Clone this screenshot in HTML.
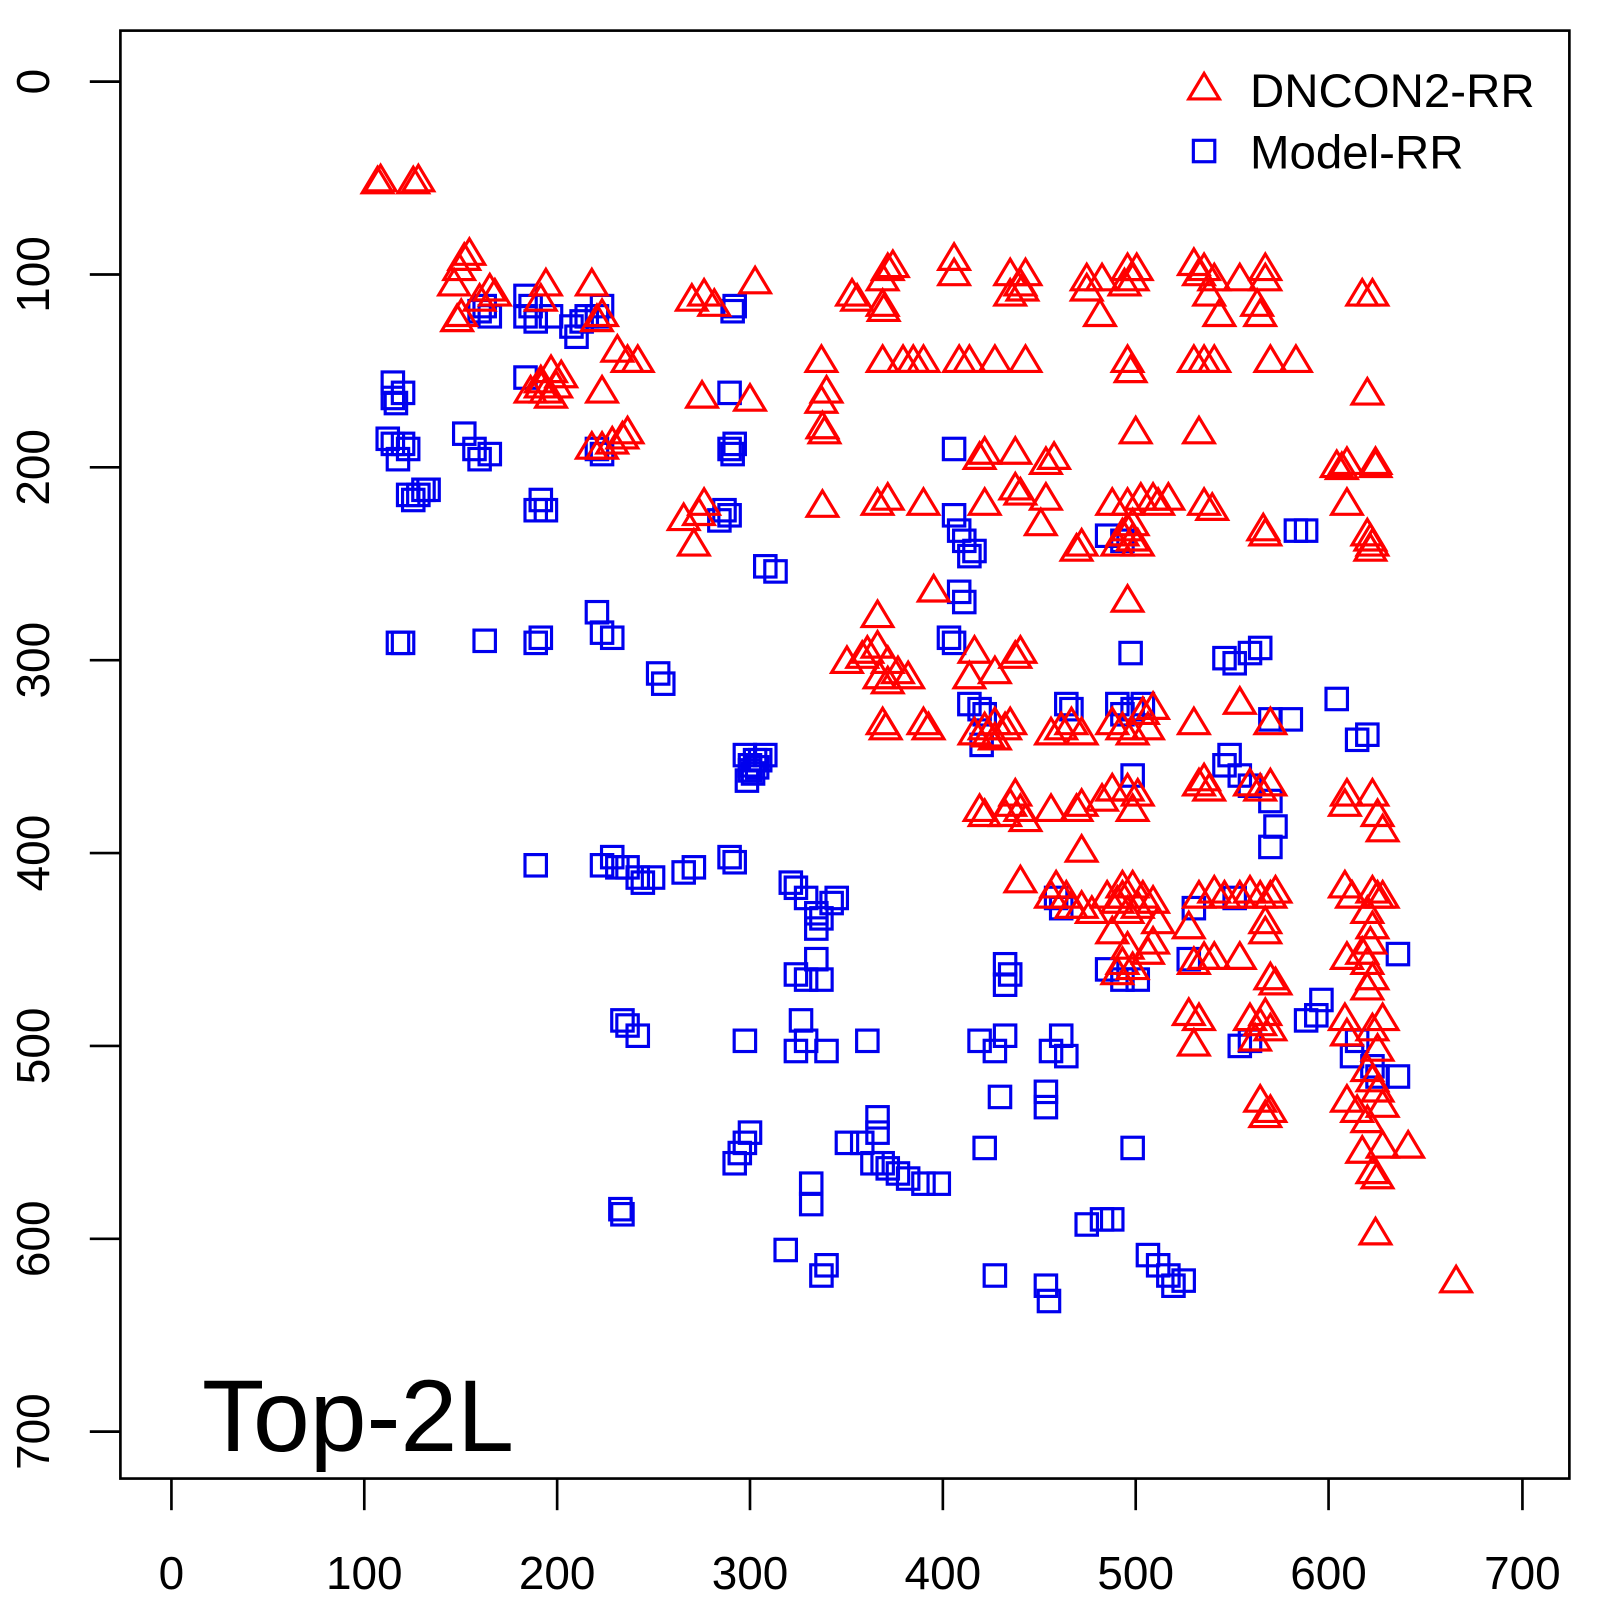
<!DOCTYPE html>
<html><head><meta charset="utf-8"><style>html,body{margin:0;padding:0;background:#fff;overflow:hidden}svg{display:block}</style></head>
<body>
<svg width="1600" height="1600" viewBox="0 0 1600 1600" xmlns="http://www.w3.org/2000/svg" font-family="Liberation Sans, Arial, sans-serif">
<defs>
<path id="t" d="M0,-16 L15,9 L-15,9 Z" fill="none" stroke="#ff0000" stroke-width="3.1"/>
<rect id="s" x="-10.5" y="-10.5" width="21" height="21" fill="none" stroke="#0000ee" stroke-width="3.1"/>
</defs>
<g transform="scale(1.0204)">
<rect x="118" y="30" width="1420" height="1419" fill="none" stroke="#000" stroke-width="2.6"/>
<g stroke="#000" stroke-width="2.6">
<line x1="168" y1="1449" x2="168" y2="1480"/><line x1="357" y1="1449" x2="357" y2="1480"/><line x1="546" y1="1449" x2="546" y2="1480"/><line x1="735" y1="1449" x2="735" y2="1480"/><line x1="924" y1="1449" x2="924" y2="1480"/><line x1="1113" y1="1449" x2="1113" y2="1480"/><line x1="1302" y1="1449" x2="1302" y2="1480"/><line x1="1492" y1="1449" x2="1492" y2="1480"/>
<line x1="88" y1="80" x2="118" y2="80"/><line x1="88" y1="269" x2="118" y2="269"/><line x1="88" y1="458" x2="118" y2="458"/><line x1="88" y1="647" x2="118" y2="647"/><line x1="88" y1="836" x2="118" y2="836"/><line x1="88" y1="1025" x2="118" y2="1025"/><line x1="88" y1="1214" x2="118" y2="1214"/><line x1="88" y1="1403" x2="118" y2="1403"/>
</g>
<g font-size="45" text-anchor="middle" fill="#000">
<text x="168" y="1557">0</text><text x="357" y="1557">100</text><text x="546" y="1557">200</text><text x="735" y="1557">300</text><text x="924" y="1557">400</text><text x="1113" y="1557">500</text><text x="1302" y="1557">600</text><text x="1492" y="1557">700</text>
<text transform="translate(48,80) rotate(-90)">0</text><text transform="translate(48,269) rotate(-90)">100</text><text transform="translate(48,458) rotate(-90)">200</text><text transform="translate(48,647) rotate(-90)">300</text><text transform="translate(48,836) rotate(-90)">400</text><text transform="translate(48,1025) rotate(-90)">500</text><text transform="translate(48,1214) rotate(-90)">600</text><text transform="translate(48,1403) rotate(-90)">700</text>
</g>
<text x="198" y="1422" font-size="100" fill="#000">Top-2L</text>
<use href="#t" x="1180" y="88"/><text x="1225" y="105" font-size="46.5">DNCON2-RR</text>
<use href="#s" x="1180" y="148"/><text x="1225" y="165" font-size="46.5">Model-RR</text>
<g id="blue">
<use href="#s" x="475" y="300"/><use href="#s" x="480" y="310"/><use href="#s" x="470" y="305"/>
<use href="#s" x="515" y="290"/><use href="#s" x="520" y="300"/><use href="#s" x="515" y="310"/><use href="#s" x="525" y="315"/>
<use href="#s" x="540" y="310"/><use href="#s" x="560" y="320"/><use href="#s" x="565" y="330"/><use href="#s" x="570" y="315"/><use href="#s" x="575" y="310"/>
<use href="#s" x="590" y="300"/><use href="#s" x="585" y="310"/><use href="#s" x="720" y="300"/><use href="#s" x="718" y="305"/>
<use href="#s" x="515" y="370"/>
<use href="#s" x="385" y="375"/><use href="#s" x="385" y="390"/><use href="#s" x="395" y="385"/><use href="#s" x="388" y="395"/>
<use href="#s" x="380" y="430"/><use href="#s" x="385" y="435"/><use href="#s" x="395" y="435"/><use href="#s" x="400" y="440"/><use href="#s" x="390" y="450"/>
<use href="#s" x="400" y="485"/><use href="#s" x="405" y="490"/><use href="#s" x="410" y="485"/><use href="#s" x="415" y="480"/><use href="#s" x="420" y="480"/>
<use href="#s" x="455" y="425"/><use href="#s" x="465" y="440"/><use href="#s" x="470" y="450"/><use href="#s" x="480" y="445"/>
<use href="#s" x="530" y="490"/><use href="#s" x="535" y="500"/><use href="#s" x="525" y="500"/>
<use href="#s" x="585" y="440"/><use href="#s" x="590" y="445"/>
<use href="#s" x="715" y="385"/><use href="#s" x="715" y="440"/><use href="#s" x="720" y="435"/><use href="#s" x="718" y="445"/>
<use href="#s" x="710" y="500"/><use href="#s" x="715" y="505"/><use href="#s" x="705" y="510"/>
<use href="#s" x="750" y="555"/><use href="#s" x="760" y="560"/>
<use href="#s" x="390" y="630"/><use href="#s" x="395" y="630"/><use href="#s" x="475" y="628"/><use href="#s" x="525" y="630"/><use href="#s" x="530" y="625"/>
<use href="#s" x="585" y="600"/><use href="#s" x="590" y="620"/><use href="#s" x="600" y="625"/>
<use href="#s" x="645" y="660"/><use href="#s" x="650" y="670"/>
<use href="#s" x="730" y="740"/><use href="#s" x="735" y="750"/><use href="#s" x="740" y="745"/><use href="#s" x="745" y="745"/><use href="#s" x="750" y="740"/><use href="#s" x="732" y="765"/><use href="#s" x="738" y="758"/><use href="#s" x="735" y="755"/><use href="#s" x="742" y="752"/>
<use href="#s" x="525" y="848"/><use href="#s" x="590" y="848"/><use href="#s" x="600" y="840"/><use href="#s" x="605" y="850"/><use href="#s" x="615" y="850"/><use href="#s" x="625" y="860"/><use href="#s" x="630" y="865"/><use href="#s" x="640" y="860"/>
<use href="#s" x="670" y="855"/><use href="#s" x="680" y="850"/><use href="#s" x="715" y="840"/><use href="#s" x="720" y="845"/>
<use href="#s" x="775" y="865"/><use href="#s" x="780" y="870"/><use href="#s" x="790" y="880"/><use href="#s" x="800" y="895"/><use href="#s" x="805" y="900"/><use href="#s" x="815" y="885"/><use href="#s" x="820" y="880"/><use href="#s" x="800" y="910"/>
<use href="#s" x="780" y="955"/><use href="#s" x="790" y="960"/><use href="#s" x="805" y="960"/><use href="#s" x="800" y="940"/>
<use href="#s" x="610" y="1000"/><use href="#s" x="615" y="1005"/><use href="#s" x="625" y="1015"/><use href="#s" x="730" y="1020"/>
<use href="#s" x="785" y="1000"/><use href="#s" x="790" y="1020"/><use href="#s" x="780" y="1030"/><use href="#s" x="810" y="1030"/><use href="#s" x="850" y="1020"/>
<use href="#s" x="735" y="1110"/><use href="#s" x="730" y="1120"/><use href="#s" x="725" y="1130"/><use href="#s" x="720" y="1140"/>
<use href="#s" x="795" y="1160"/><use href="#s" x="795" y="1180"/><use href="#s" x="608" y="1185"/><use href="#s" x="610" y="1190"/>
<use href="#s" x="770" y="1225"/><use href="#s" x="810" y="1240"/><use href="#s" x="805" y="1250"/>
<use href="#s" x="830" y="1120"/><use href="#s" x="845" y="1120"/><use href="#s" x="860" y="1095"/><use href="#s" x="860" y="1110"/>
<use href="#s" x="855" y="1140"/><use href="#s" x="865" y="1140"/><use href="#s" x="870" y="1145"/><use href="#s" x="880" y="1150"/><use href="#s" x="890" y="1155"/><use href="#s" x="905" y="1160"/><use href="#s" x="920" y="1160"/>
<use href="#s" x="985" y="1015"/><use href="#s" x="960" y="1020"/><use href="#s" x="975" y="1030"/><use href="#s" x="965" y="1125"/><use href="#s" x="980" y="1075"/>
<use href="#s" x="1030" y="1030"/><use href="#s" x="1040" y="1015"/><use href="#s" x="1045" y="1035"/><use href="#s" x="1025" y="1070"/><use href="#s" x="1025" y="1085"/>
<use href="#s" x="975" y="1250"/><use href="#s" x="1025" y="1260"/><use href="#s" x="1028" y="1275"/>
<use href="#s" x="1065" y="1200"/><use href="#s" x="1080" y="1195"/><use href="#s" x="1090" y="1195"/><use href="#s" x="1110" y="1125"/>
<use href="#s" x="1125" y="1230"/><use href="#s" x="1135" y="1240"/><use href="#s" x="1145" y="1250"/><use href="#s" x="1150" y="1260"/><use href="#s" x="1160" y="1255"/>
<use href="#s" x="935" y="440"/><use href="#s" x="935" y="505"/><use href="#s" x="940" y="520"/><use href="#s" x="945" y="530"/><use href="#s" x="950" y="545"/><use href="#s" x="955" y="540"/>
<use href="#s" x="940" y="580"/><use href="#s" x="945" y="590"/><use href="#s" x="930" y="625"/><use href="#s" x="935" y="630"/>
<use href="#s" x="950" y="690"/><use href="#s" x="960" y="695"/><use href="#s" x="965" y="700"/><use href="#s" x="962" y="730"/>
<use href="#s" x="1045" y="690"/><use href="#s" x="1050" y="695"/>
<use href="#s" x="985" y="945"/><use href="#s" x="990" y="955"/><use href="#s" x="985" y="965"/>
<use href="#s" x="1035" y="880"/><use href="#s" x="1040" y="890"/>
<use href="#s" x="1085" y="950"/><use href="#s" x="1100" y="960"/><use href="#s" x="1115" y="960"/>
<use href="#s" x="1095" y="690"/><use href="#s" x="1100" y="700"/><use href="#s" x="1110" y="695"/><use href="#s" x="1120" y="690"/><use href="#s" x="1110" y="760"/><use href="#s" x="1108" y="640"/>
<use href="#s" x="1085" y="525"/><use href="#s" x="1100" y="530"/><use href="#s" x="1170" y="890"/><use href="#s" x="1165" y="940"/>
<use href="#s" x="1200" y="750"/><use href="#s" x="1205" y="740"/><use href="#s" x="1215" y="760"/><use href="#s" x="1225" y="770"/>
<use href="#s" x="1200" y="645"/><use href="#s" x="1210" y="650"/><use href="#s" x="1225" y="640"/><use href="#s" x="1235" y="635"/>
<use href="#s" x="1245" y="785"/><use href="#s" x="1250" y="810"/><use href="#s" x="1245" y="830"/><use href="#s" x="1245" y="705"/><use href="#s" x="1265" y="705"/>
<use href="#s" x="1270" y="520"/><use href="#s" x="1280" y="520"/><use href="#s" x="1295" y="980"/><use href="#s" x="1280" y="1000"/><use href="#s" x="1290" y="995"/>
<use href="#s" x="1310" y="685"/><use href="#s" x="1330" y="725"/><use href="#s" x="1340" y="720"/><use href="#s" x="1370" y="935"/>
<use href="#s" x="1345" y="1045"/><use href="#s" x="1350" y="1055"/><use href="#s" x="1370" y="1055"/><use href="#s" x="1330" y="1020"/><use href="#s" x="1325" y="1035"/>
<use href="#s" x="1215" y="1025"/><use href="#s" x="1225" y="1020"/><use href="#s" x="1210" y="880"/>
</g>
<g id="red">
<use href="#t" x="370" y="180"/><use href="#t" x="373" y="178"/><use href="#t" x="410" y="178"/><use href="#t" x="405" y="180"/>
<use href="#t" x="455" y="255"/><use href="#t" x="460" y="250"/><use href="#t" x="450" y="265"/><use href="#t" x="445" y="280"/><use href="#t" x="452" y="310"/><use href="#t" x="448" y="315"/><use href="#t" x="480" y="285"/><use href="#t" x="485" y="290"/><use href="#t" x="470" y="295"/><use href="#t" x="535" y="280"/><use href="#t" x="530" y="295"/><use href="#t" x="580" y="280"/><use href="#t" x="590" y="310"/><use href="#t" x="585" y="315"/>
<use href="#t" x="530" y="375"/><use href="#t" x="540" y="365"/><use href="#t" x="545" y="380"/><use href="#t" x="535" y="385"/><use href="#t" x="520" y="385"/><use href="#t" x="550" y="370"/><use href="#t" x="540" y="390"/><use href="#t" x="530" y="380"/>
<use href="#t" x="590" y="385"/><use href="#t" x="605" y="345"/><use href="#t" x="615" y="355"/><use href="#t" x="625" y="355"/>
<use href="#t" x="590" y="440"/><use href="#t" x="580" y="440"/><use href="#t" x="600" y="435"/><use href="#t" x="610" y="430"/><use href="#t" x="615" y="425"/>
<use href="#t" x="688" y="390"/><use href="#t" x="735" y="393"/><use href="#t" x="740" y="278"/><use href="#t" x="690" y="290"/><use href="#t" x="700" y="300"/><use href="#t" x="678" y="295"/>
<use href="#t" x="670" y="510"/><use href="#t" x="680" y="535"/><use href="#t" x="690" y="495"/><use href="#t" x="685" y="505"/>
<use href="#t" x="805" y="355"/><use href="#t" x="810" y="385"/><use href="#t" x="805" y="395"/><use href="#t" x="808" y="425"/><use href="#t" x="806" y="420"/><use href="#t" x="806" y="497"/>
<use href="#t" x="835" y="290"/><use href="#t" x="840" y="295"/>
<use href="#t" x="865" y="275"/><use href="#t" x="870" y="265"/><use href="#t" x="875" y="262"/><use href="#t" x="865" y="300"/><use href="#t" x="866" y="305"/><use href="#t" x="865" y="355"/><use href="#t" x="885" y="355"/><use href="#t" x="895" y="355"/><use href="#t" x="905" y="355"/>
<use href="#t" x="935" y="255"/><use href="#t" x="935" y="270"/><use href="#t" x="990" y="290"/><use href="#t" x="990" y="270"/><use href="#t" x="1005" y="270"/><use href="#t" x="1002" y="285"/><use href="#t" x="1000" y="280"/>
<use href="#t" x="1065" y="285"/><use href="#t" x="1080" y="275"/><use href="#t" x="1065" y="275"/><use href="#t" x="1078" y="310"/>
<use href="#t" x="1105" y="265"/><use href="#t" x="1110" y="275"/><use href="#t" x="1102" y="280"/><use href="#t" x="1114" y="265"/>
<use href="#t" x="1170" y="260"/><use href="#t" x="1175" y="270"/><use href="#t" x="1180" y="265"/><use href="#t" x="1190" y="275"/><use href="#t" x="1185" y="290"/><use href="#t" x="1195" y="310"/>
<use href="#t" x="1215" y="275"/><use href="#t" x="1240" y="275"/><use href="#t" x="1235" y="310"/><use href="#t" x="1232" y="300"/><use href="#t" x="1240" y="265"/>
<use href="#t" x="1335" y="290"/><use href="#t" x="1345" y="290"/>
<use href="#t" x="940" y="355"/><use href="#t" x="950" y="355"/><use href="#t" x="975" y="355"/><use href="#t" x="1005" y="355"/>
<use href="#t" x="1170" y="355"/><use href="#t" x="1180" y="355"/><use href="#t" x="1190" y="355"/><use href="#t" x="1245" y="355"/><use href="#t" x="1270" y="355"/>
<use href="#t" x="1105" y="355"/><use href="#t" x="1108" y="365"/><use href="#t" x="1340" y="387"/><use href="#t" x="1175" y="425"/><use href="#t" x="1113" y="425"/>
<use href="#t" x="960" y="450"/><use href="#t" x="965" y="445"/><use href="#t" x="995" y="445"/><use href="#t" x="1025" y="455"/><use href="#t" x="1033" y="450"/>
<use href="#t" x="860" y="495"/><use href="#t" x="870" y="490"/><use href="#t" x="905" y="495"/><use href="#t" x="965" y="495"/>
<use href="#t" x="1000" y="485"/><use href="#t" x="995" y="480"/><use href="#t" x="1025" y="490"/><use href="#t" x="1020" y="515"/>
<use href="#t" x="1090" y="495"/><use href="#t" x="1105" y="495"/><use href="#t" x="1118" y="490"/><use href="#t" x="1130" y="490"/><use href="#t" x="1145" y="490"/><use href="#t" x="1180" y="495"/><use href="#t" x="1188" y="500"/><use href="#t" x="1135" y="495"/>
<use href="#t" x="1110" y="515"/><use href="#t" x="1100" y="525"/><use href="#t" x="1115" y="535"/><use href="#t" x="1095" y="535"/><use href="#t" x="1105" y="520"/><use href="#t" x="1110" y="530"/>
<use href="#t" x="1060" y="535"/><use href="#t" x="1055" y="540"/>
<use href="#t" x="1238" y="520"/><use href="#t" x="1240" y="525"/><use href="#t" x="1320" y="495"/><use href="#t" x="1340" y="525"/><use href="#t" x="1345" y="535"/><use href="#t" x="1343" y="540"/>
<use href="#t" x="1320" y="455"/><use href="#t" x="1315" y="460"/><use href="#t" x="1348" y="455"/>
<use href="#t" x="860" y="605"/><use href="#t" x="845" y="645"/><use href="#t" x="850" y="640"/><use href="#t" x="830" y="650"/>
<use href="#t" x="860" y="635"/><use href="#t" x="870" y="650"/><use href="#t" x="880" y="660"/><use href="#t" x="890" y="665"/><use href="#t" x="870" y="670"/><use href="#t" x="862" y="665"/>
<use href="#t" x="865" y="710"/><use href="#t" x="905" y="710"/><use href="#t" x="910" y="715"/><use href="#t" x="868" y="715"/>
<use href="#t" x="915" y="580"/><use href="#t" x="955" y="640"/><use href="#t" x="950" y="665"/><use href="#t" x="975" y="660"/>
<use href="#t" x="1000" y="640"/><use href="#t" x="995" y="645"/>
<use href="#t" x="955" y="720"/><use href="#t" x="965" y="715"/><use href="#t" x="975" y="710"/><use href="#t" x="985" y="715"/><use href="#t" x="990" y="710"/><use href="#t" x="975" y="725"/><use href="#t" x="968" y="722"/>
<use href="#t" x="1040" y="715"/><use href="#t" x="1050" y="710"/><use href="#t" x="1060" y="720"/><use href="#t" x="1030" y="720"/>
<use href="#t" x="1090" y="710"/><use href="#t" x="1100" y="715"/><use href="#t" x="1110" y="720"/><use href="#t" x="1125" y="715"/><use href="#t" x="1120" y="700"/><use href="#t" x="1130" y="695"/>
<use href="#t" x="1105" y="590"/><use href="#t" x="1170" y="710"/><use href="#t" x="1215" y="690"/><use href="#t" x="1245" y="710"/>
<use href="#t" x="1175" y="770"/><use href="#t" x="1180" y="765"/><use href="#t" x="1185" y="775"/>
<use href="#t" x="1225" y="770"/><use href="#t" x="1235" y="775"/><use href="#t" x="1245" y="770"/>
<use href="#t" x="960" y="795"/><use href="#t" x="965" y="800"/><use href="#t" x="990" y="790"/><use href="#t" x="995" y="780"/><use href="#t" x="1000" y="795"/><use href="#t" x="985" y="800"/><use href="#t" x="1005" y="805"/><use href="#t" x="1030" y="795"/>
<use href="#t" x="1055" y="795"/><use href="#t" x="1060" y="790"/><use href="#t" x="1080" y="785"/><use href="#t" x="1090" y="775"/><use href="#t" x="1105" y="775"/><use href="#t" x="1115" y="780"/><use href="#t" x="1110" y="795"/>
<use href="#t" x="1060" y="835"/><use href="#t" x="1000" y="865"/>
<use href="#t" x="1035" y="870"/><use href="#t" x="1030" y="880"/><use href="#t" x="1050" y="890"/><use href="#t" x="1060" y="890"/><use href="#t" x="1070" y="895"/><use href="#t" x="1085" y="880"/><use href="#t" x="1095" y="885"/><use href="#t" x="1100" y="880"/><use href="#t" x="1110" y="870"/><use href="#t" x="1120" y="880"/><use href="#t" x="1130" y="885"/><use href="#t" x="1135" y="905"/><use href="#t" x="1045" y="880"/><use href="#t" x="1105" y="895"/><use href="#t" x="1100" y="870"/><use href="#t" x="1115" y="890"/>
<use href="#t" x="1090" y="915"/><use href="#t" x="1100" y="945"/><use href="#t" x="1095" y="955"/><use href="#t" x="1110" y="950"/><use href="#t" x="1125" y="935"/><use href="#t" x="1130" y="925"/><use href="#t" x="1105" y="930"/>
<use href="#t" x="1175" y="880"/><use href="#t" x="1190" y="875"/><use href="#t" x="1200" y="880"/><use href="#t" x="1215" y="880"/><use href="#t" x="1225" y="875"/><use href="#t" x="1235" y="880"/><use href="#t" x="1245" y="880"/><use href="#t" x="1250" y="875"/><use href="#t" x="1165" y="910"/><use href="#t" x="1180" y="940"/><use href="#t" x="1170" y="945"/><use href="#t" x="1190" y="940"/>
<use href="#t" x="1215" y="940"/><use href="#t" x="1240" y="915"/><use href="#t" x="1245" y="960"/><use href="#t" x="1250" y="965"/><use href="#t" x="1240" y="905"/>
<use href="#t" x="1165" y="995"/><use href="#t" x="1175" y="1000"/><use href="#t" x="1170" y="1025"/>
<use href="#t" x="1225" y="1000"/><use href="#t" x="1235" y="1005"/><use href="#t" x="1245" y="1010"/><use href="#t" x="1230" y="1020"/><use href="#t" x="1240" y="995"/>
<use href="#t" x="1235" y="1080"/><use href="#t" x="1240" y="1095"/><use href="#t" x="1245" y="1090"/>
<use href="#t" x="1320" y="780"/><use href="#t" x="1318" y="790"/><use href="#t" x="1345" y="780"/><use href="#t" x="1350" y="800"/><use href="#t" x="1355" y="815"/>
<use href="#t" x="1318" y="870"/><use href="#t" x="1325" y="880"/><use href="#t" x="1345" y="875"/><use href="#t" x="1350" y="880"/><use href="#t" x="1340" y="895"/><use href="#t" x="1345" y="910"/><use href="#t" x="1335" y="935"/><use href="#t" x="1340" y="945"/><use href="#t" x="1345" y="960"/><use href="#t" x="1340" y="970"/><use href="#t" x="1320" y="940"/><use href="#t" x="1355" y="880"/><use href="#t" x="1343" y="925"/>
<use href="#t" x="1318" y="1000"/><use href="#t" x="1320" y="1015"/><use href="#t" x="1345" y="1010"/><use href="#t" x="1355" y="1000"/><use href="#t" x="1350" y="1030"/><use href="#t" x="1340" y="1050"/>
<use href="#t" x="1320" y="1080"/><use href="#t" x="1330" y="1090"/><use href="#t" x="1345" y="1060"/><use href="#t" x="1350" y="1070"/><use href="#t" x="1355" y="1085"/><use href="#t" x="1340" y="1100"/>
<use href="#t" x="1335" y="1130"/><use href="#t" x="1355" y="1125"/><use href="#t" x="1380" y="1125"/><use href="#t" x="1345" y="1150"/><use href="#t" x="1350" y="1155"/><use href="#t" x="1348" y="1210"/><use href="#t" x="1427" y="1257"/>
<use href="#t" x="1310" y="458"/><use href="#t" x="1348" y="458"/><use href="#t" x="1343" y="530"/>
</g>
</g>
</svg>
</body></html>
